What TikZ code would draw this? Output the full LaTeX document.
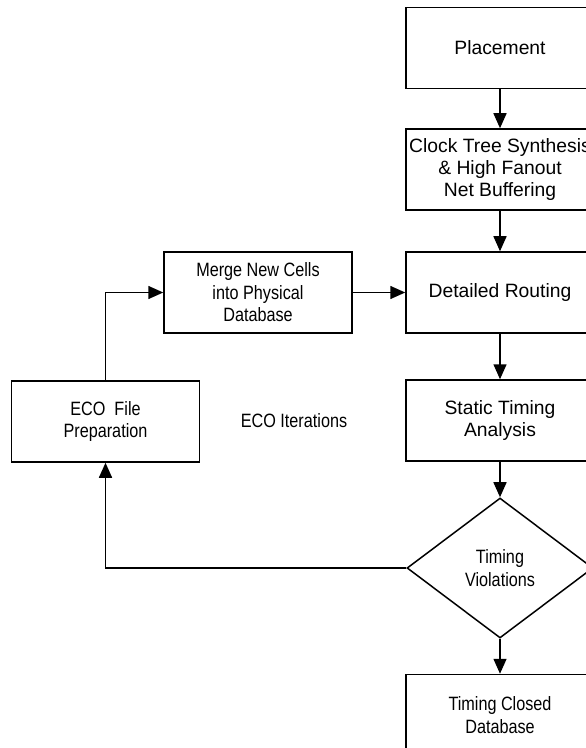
\documentclass[tikz,border=0pt]{standalone}
\usepackage{fontspec}
\setmainfont{Liberation Sans}
\newfontfamily\narrowfont[FakeStretch=0.84]{Liberation Sans}
\usetikzlibrary{arrows.meta,shapes.geometric}
\begin{document}
\begin{tikzpicture}[x=0.5pt,y=-0.5pt,
        >={Triangle[length=7.5pt,width=6.5pt]},
        flow/.style={line width=0.75pt},
        stage/.style={draw,line width=0.75pt,minimum width=94pt,minimum height=40.5pt,
            inner sep=0pt,align=center,font=\fontsize{9.65}{11}\selectfont},
        narrowstage/.style={stage,font=\narrowfont\fontsize{9.65}{11.2}\selectfont},
        decision/.style={draw,diamond,line width=0.75pt,minimum width=93pt,minimum height=70pt,
            inner sep=0pt,aspect=1.33,align=center,font=\narrowfont\fontsize{9.65}{11.2}\selectfont}]
    \useasboundingbox (0,0) rectangle (585,748);

    \node[stage] (place) at (500,48) {Placement};
    \node[stage] (cts) at (500,169.5) {Clock Tree Synthesis\\ \& High Fanout\\ Net Buffering};
    \node[stage] (route) at (500,292.5) {Detailed Routing};
    \node[stage] (sta) at (500,420.5) {Static Timing\\ Analysis};
    \node[decision] (viol) at (500,568) {Timing\\ Violations};
    \node[narrowstage] (closed) at (500,715) {Timing Closed\\ Database};

    \node[narrowstage] (merge) at (258,292.5) {Merge New Cells\\ into Physical\\ Database};
    \node[narrowstage] (ecofile) at (105.5,421.5) {ECO\ \ File\\ Preparation};
    \node[font=\narrowfont\fontsize{9.65}{11.2}\selectfont] (iter) at (294,421) {ECO Iterations};

    \draw[flow,->] (place) -- (cts);
    \draw[flow,->] (cts) -- (route);
    \draw[flow,->] (route) -- (sta);
    \draw[flow,->] (sta) -- (viol);
    \draw[flow,->] (viol) -- (closed);

    \draw[flow,->] (viol.west) -| (ecofile.south);
    \draw[flow,->] (ecofile.north) |- (merge.west);
    \draw[flow,->] (merge.east) -- (route.west);
\end{tikzpicture}
\end{document}
